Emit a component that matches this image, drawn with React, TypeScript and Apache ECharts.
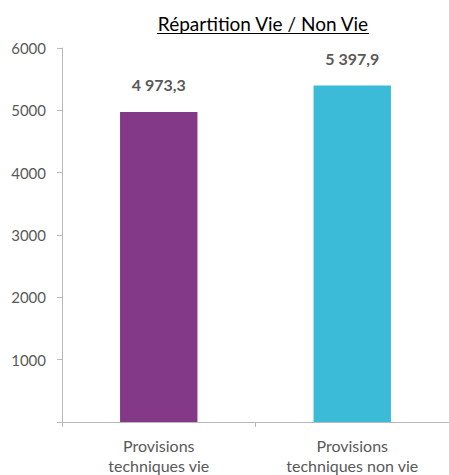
import React, { useEffect, useRef } from "react";
import * as echarts from "echarts";

const categories = ["Provisions\ntechniques vie", "Provisions\ntechniques non vie"];
const values = [4973.3, 5397.9];
const labels = ["4 973,3", "5 397,9"];
const colors = ["#833888", "#3BBBD8"];
const yTicks = [1000, 2000, 3000, 4000, 5000, 6000];
const title = "Répartition Vie / Non Vie";

export default function App() {
  const ref = useRef<HTMLDivElement>(null);
  useEffect(() => {
    if (!ref.current) return;
    const chart = echarts.init(ref.current, null, { renderer: "svg" });
    const font = "Lato, 'Open Sans', sans-serif";
    chart.setOption({
      animation: false,
      backgroundColor: "#ffffff",
      textStyle: { fontFamily: font },
      graphic: [
        {
          type: "text",
          x: 263,
          y: 23,
          style: {
            text: title,
            font: `19px ${font}`,
            fill: "#000000",
            align: "center",
            verticalAlign: "middle",
          },
          z: 10,
        },
        {
          type: "line",
          shape: { x1: 157, y1: 33.5, x2: 369, y2: 33.5 },
          style: { stroke: "#000000", lineWidth: 1 },
        },
      ],
      grid: { left: 62, top: 48, height: 375, width: 389, containLabel: false },
      xAxis: {
        type: "category",
        data: categories,
        axisLine: { show: true, lineStyle: { color: "#b8b8b8", width: 1 } },
        axisTick: { show: true, length: 5, alignWithLabel: false, lineStyle: { color: "#b8b8b8" } },
        axisLabel: {
          color: "#595959",
          fontSize: 16,
          lineHeight: 20,
          margin: 13,
          fontFamily: font,
        },
      },
      yAxis: {
        type: "value",
        min: 0,
        max: 6000,
        interval: 1000,
        axisLine: { show: true, lineStyle: { color: "#b8b8b8", width: 1 } },
        axisTick: { show: true, length: 5, lineStyle: { color: "#b8b8b8" } },
        splitLine: { show: false },
        axisLabel: {
          color: "#595959",
          fontSize: 15,
          margin: 16,
          fontFamily: font,
          formatter: (v: number) => (yTicks.includes(v) ? String(v) : ""),
        },
      },
      series: [
        {
          type: "bar",
          barWidth: "40%",
          data: values.map((v, i) => ({
            value: v,
            itemStyle: { color: colors[i] },
            label: { formatter: labels[i] },
          })),
          label: {
            show: true,
            position: "top",
            distance: 19,
            color: "#595959",
            fontSize: 16,
            fontWeight: "bold",
            fontFamily: font,
          },
        },
      ],
    });
    return () => chart.dispose();
  }, []);
  return (
    <div
      ref={ref}
      style={{ position: "fixed", left: 0, top: 0, width: 449, height: 475 }}
    />
  );
}
